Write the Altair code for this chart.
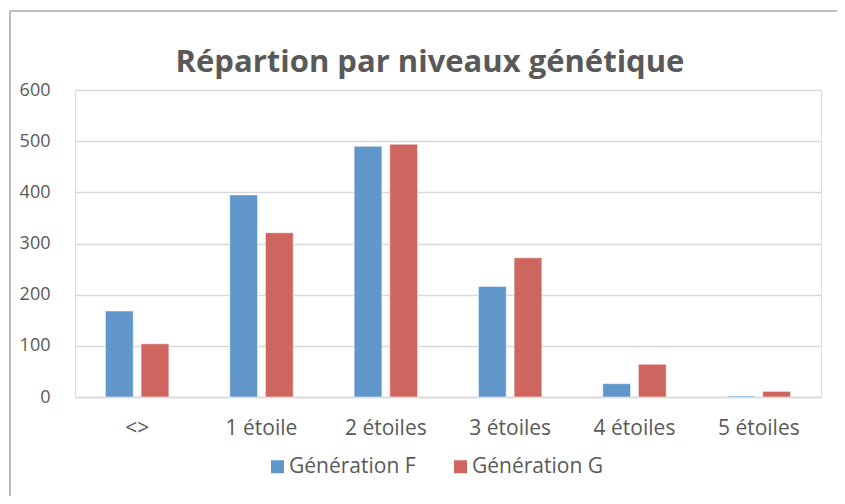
import altair as alt
import pandas as pd

categories = ["<>", "1 étoile", "2 étoiles", "3 étoiles", "4 étoiles", "5 étoiles"]
series_names = ["Génération F", "Génération G"]
gen_f = [168, 395, 490, 216, 26, 2]
gen_g = [104, 321, 494, 272, 64, 11]
colors = ["#6096C9", "#CE665F"]
title_text = "Répartion par niveaux génétique"

rows = []
for c, f, g in zip(categories, gen_f, gen_g):
    rows.append({"cat": c, "serie": series_names[0], "val": f})
    rows.append({"cat": c, "serie": series_names[1], "val": g})
df = pd.DataFrame(rows)

FONT = "Open Sans"
TXT = "#595959"

bars = alt.Chart(df).mark_bar(strokeWidth=1, strokeOpacity=0.5, stroke="white").encode(
    x=alt.X("cat:N", sort=categories, title=None,
            scale=alt.Scale(paddingInner=0.49, paddingOuter=0.245),
            axis=alt.Axis(labelAngle=0, ticks=False, domainColor="#D9D9D9", domainWidth=1.5,
                          labelPadding=20, labelFontSize=21, labelColor=TXT, labelFont=FONT, grid=False)),
    xOffset=alt.XOffset("serie:N", sort=series_names, scale=alt.Scale(paddingInner=0.22)),
    y=alt.Y("val:Q", title=None,
            scale=alt.Scale(domain=[0, 600], nice=False),
            axis=alt.Axis(values=[0, 100, 200, 300, 400, 500, 600], ticks=False, domain=False,
                          labelPadding=25, labelFontSize=18, labelColor=TXT, labelFont=FONT,
                          gridColor="#D9D9D9", gridWidth=1.5)),
    color=alt.Color("serie:N", sort=series_names,
                    scale=alt.Scale(domain=series_names, range=colors),
                    legend=alt.Legend(title=None, orient="none", direction="horizontal",
                                      legendX=192, legendY=366, symbolType="square",
                                      symbolSize=169, symbolStrokeWidth=0, symbolOpacity=1,
                                      labelFontSize=21, labelColor=TXT, labelFont=FONT,
                                      columnPadding=34, labelOffset=1)),
)

frame_data = alt.Data(values=[{}])
top_rule = alt.Chart(frame_data).mark_rule(color="#A6A6A6", strokeWidth=1.5).encode(
    x=alt.value(-65), x2=alt.value(762), y=alt.value(-79))
left_rule = alt.Chart(frame_data).mark_rule(color="#A6A6A6", strokeWidth=1.5).encode(
    x=alt.value(-65), y=alt.value(-79), y2=alt.value(420))

chart = alt.layer(bars, top_rule, left_rule).properties(
    width=746, height=307,
    title=alt.TitleParams(title_text, anchor="middle", fontSize=31, font=FONT, fontWeight="bold",
                          color=TXT, offset=10, dx=-18, dy=79),
    autosize=alt.AutoSizeParams(type="none"),
    padding={"left": 67, "top": 82, "right": 16, "bottom": 99},
).configure_view(stroke=None).configure(background="white")

chart.save("out.html", embed_options={"renderer": "svg", "actions": False})
